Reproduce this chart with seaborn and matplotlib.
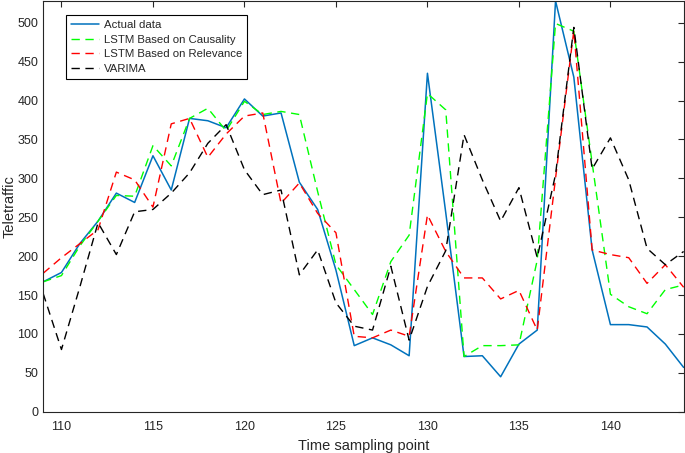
import matplotlib
matplotlib.use("Agg")
import matplotlib.pyplot as plt
import seaborn as sns
import pandas as pd

# time sampling points
t = list(range(109, 145))

actual = [167, 179, 216, 245, 281, 269, 329, 285, 377, 374, 365, 402,
          380, 384, 295, 260, 182, 85, 95, 86, 72, 435, 256, 71,
          72, 45, 87, 105, 528, 430, 208, 112, 112, 109, 87, 57]
causality = [167, 175, 213, 245, 278, 277, 342, 316, 377, 390, 361, 399,
             382, 386, 382, 283, 189, 157, 125, 193, 227, 409, 388, 71,
             85, 85, 86, 195, 499, 489, 320, 151, 135, 126, 157, 163]
relevance = [178, 198, 216, 234, 308, 298, 263, 370, 377, 327, 357, 380,
             384, 268, 294, 255, 230, 97, 95, 105, 97, 253, 206, 172,
             172, 145, 156, 105, 300, 490, 208, 202, 198, 165, 189, 160]
varima = [152, 80, 160, 243, 202, 257, 260, 281, 307, 345, 369, 311,
          279, 285, 176, 208, 140, 110, 105, 187, 92, 161, 207, 356,
          298, 245, 288, 198, 305, 494, 312, 352, 298, 210, 189, 206]

df = pd.DataFrame({"t": t, "actual": actual, "causality": causality,
                   "relevance": relevance, "varima": varima})

sns.set_style("white")
plt.rcParams['font.family'] = ['Liberation Sans', 'DejaVu Sans']

fig = plt.figure(figsize=(6.85, 4.53), dpi=100)
ax = fig.add_axes([0.063, 0.091, 0.935, 0.907])

dash = (6, 4)
sns.lineplot(data=df, x="t", y="actual", color="#0072BD", linewidth=1.1,
             label="Actual data", ax=ax)
sns.lineplot(data=df, x="t", y="causality", color="#00FF00", linewidth=1.0,
             label="LSTM Based on Causality", ax=ax)
sns.lineplot(data=df, x="t", y="relevance", color="#FF0000", linewidth=1.0,
             label="LSTM Based on Relevance", ax=ax)
sns.lineplot(data=df, x="t", y="varima", color="black", linewidth=1.0,
             label="VARIMA", ax=ax)
for line in ax.lines[1:]:
    line.set_dashes(dash)

ax.set_xlim(109, 144)
ax.set_ylim(0, max(actual))
ax.set_xticks(range(110, 145, 5))
ax.set_yticks(range(0, 501, 50))

ax.set_xlabel("Time sampling point", fontsize=10.5, color="#262626")
ax.set_ylabel("Teletraffic", fontsize=10.5, color="#262626")
ax.yaxis.set_label_coords(-0.041, 0.5)
ax.tick_params(direction="in", length=4, width=0.8, labelsize=9,
               colors="#262626", top=True, right=True)
ax.tick_params(axis="x", pad=7)
for s in ax.spines.values():
    s.set_color("#262626")
    s.set_linewidth(0.8)

leg = ax.legend(loc="upper left", bbox_to_anchor=(0.035, 0.966),
                borderaxespad=0, fontsize=8.2, handlelength=2.5,
                handletextpad=0.4, borderpad=0.45, fancybox=False,
                framealpha=1, edgecolor="black", labelspacing=0.4)
leg.get_frame().set_linewidth(0.8)
for h in leg.get_lines()[1:]:
    h.set_dashes(dash)

plt.savefig("out.png", dpi=100)
